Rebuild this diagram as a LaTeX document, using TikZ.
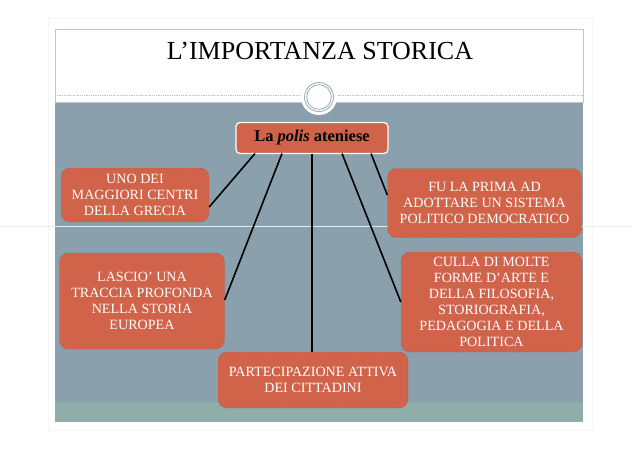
\documentclass[tikz,border=0pt]{standalone}
\usepackage{fontspec}
\setmainfont{Liberation Serif}
\definecolor{boxfill}{RGB}{208,99,74}
\definecolor{slidebg}{RGB}{138,160,172}
\definecolor{teal}{RGB}{143,174,170}
\definecolor{framec}{RGB}{184,200,204}
\definecolor{ringc}{RGB}{150,170,178}
\tikzset{
  idea/.style={draw=boxfill!70!black, densely dotted, fill=boxfill, rounded corners=9pt,
    text=white, font=\fontsize{14.1}{16}\selectfont, align=center, inner sep=1pt},
  link/.style={line width=1.6pt, black}
}
\begin{document}
\begin{tikzpicture}[x=1pt,y=-1pt]
\useasboundingbox (0,0) rectangle (638,452);
\fill[white] (0,0) rectangle (638,452);
% outer faint frame
\draw[gray!7, line width=0.8pt] (48,18) rectangle (592,430);
% title frame
\draw[framec, line width=1pt] (55,30) rectangle (583,103);
\fill[slidebg] (55,103) rectangle (583,402);
\fill[teal] (55,402) rectangle (583,422);
\draw[gray!50, densely dotted, line width=0.8pt] (55,95) -- (583,95);
% title
\node[font=\fontsize{26}{28}\selectfont] (title) at (320,51) {L’IMPORTANZA STORICA};
% circle ornament
\fill[white] (319,97) circle (18);
\draw[ringc, line width=0.8pt] (319,97) circle (14.5);
\draw[ringc, line width=0.8pt] (319,97) circle (12.3);
% faint page artifact line
\draw[white!80!slidebg, line width=0.4pt] (0,226) -- (632,226);
% central node
\node[draw=white, line width=1.2pt, fill=boxfill, rounded corners=4pt,
  minimum width=152pt, minimum height=31pt, inner sep=0pt,
  font=\fontsize{16.5}{18}\selectfont\bfseries] (c) at (312,138) {La \textit{polis} ateniese};
% boxes
\node[idea, minimum width=148pt, minimum height=54pt] (l1) at (135,195) {UNO DEI\\MAGGIORI CENTRI\\DELLA GRECIA};
\node[idea, minimum width=165pt, minimum height=96pt] (l2) at (142,301) {LASCIO’ UNA\\TRACCIA PROFONDA\\NELLA STORIA\\EUROPEA};
\node[idea, minimum width=190pt, minimum height=56pt] (b) at (313,380) {PARTECIPAZIONE ATTIVA\\DEI CITTADINI};
\node[idea, minimum width=194pt, minimum height=69pt] (r1) at (484.5,203) {FU LA PRIMA AD\\ADOTTARE UN SISTEMA\\POLITICO DEMOCRATICO};
\node[idea, minimum width=181pt, minimum height=100pt] (r2) at (491.5,302) {CULLA DI MOLTE\\FORME D’ARTE E\\DELLA FILOSOFIA,\\STORIOGRAFIA,\\PEDAGOGIA E DELLA\\POLITICA};
% connectors
\coordinate (cl1) at (255,153.5);
\coordinate (cl2) at (282,153.5);
\coordinate (cb) at (312,153.5);
\coordinate (cr2) at (342,153.5);
\coordinate (cr1) at (371,153.5);
\draw[link] (cl1) -- (l1.east |- 0,207);
\draw[link] (cl2) -- (l2.east |- 0,300);
\draw[link] (cb) -- (b.north -| cb);
\draw[link] (cr2) -- (r2.west |- 0,302);
\draw[link] (cr1) -- (r1.west |- 0,195);
\end{tikzpicture}
\end{document}
